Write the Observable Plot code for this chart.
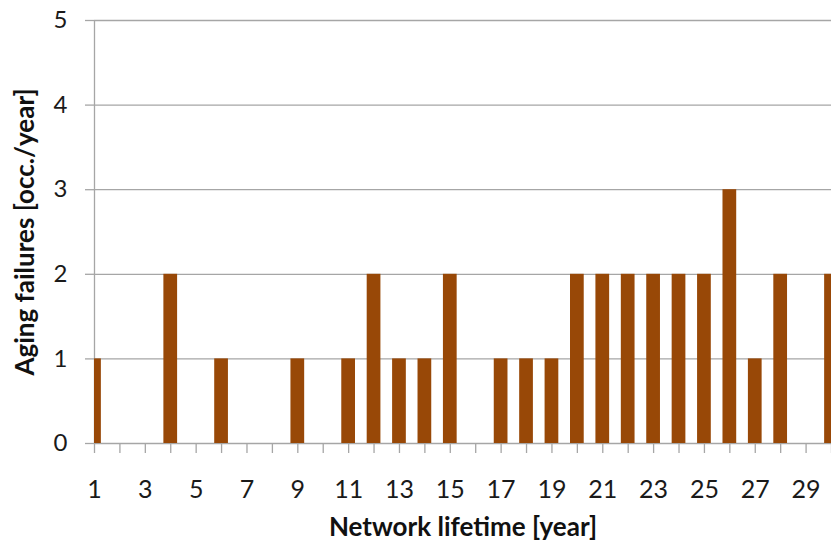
<!DOCTYPE html>
<html>
<head>
<meta charset="utf-8">
<script src="https://cdn.jsdelivr.net/npm/d3@7"></script>
<script src="https://cdn.jsdelivr.net/npm/@observablehq/plot@0.6"></script>
<style>
  html, body { margin: 0; padding: 0; background: #fff; }
  svg { display: block; }
</style>
</head>
<body>
<div id="chart"></div>
<script>
const years = [1,2,3,4,5,6,7,8,9,10,11,12,13,14,15,16,17,18,19,20,21,22,23,24,25,26,27,28,29,30];
const failures = [1,0,0,2,0,1,0,0,1,0,1,2,1,1,2,0,1,1,1,2,2,2,2,2,2,3,1,2,0,2];
const xTickLabels = [1,3,5,7,9,11,13,15,17,19,21,23,25,27,29];
const yTicks = [0,1,2,3,4,5];
const xTitle = "Network lifetime [year]";
const yTitle = "Aging failures [occ./year]";

const data = years.map((y, i) => ({year: y, value: failures[i]})).filter(d => d.value > 0);
const halfBar = 0.27;
const grid = "#a6a6a6";
const font = "Lato, 'Open Sans', sans-serif";

const chart = Plot.plot({
  width: 831,
  height: 549,
  marginLeft: 94,
  marginRight: 0,
  marginTop: 20,
  marginBottom: 106,
  style: {fontFamily: font, background: "#fff"},
  x: {domain: [1, 30], axis: null},
  y: {domain: [0, 5], axis: null},
  marks: [
    Plot.ruleY(yTicks, {stroke: grid, strokeWidth: 1.3}),
    Plot.axisY({ticks: yTicks, tickFormat: d3.format("d"), tickSize: 9, tickPadding: 18, stroke: grid, strokeWidth: 1.3, fill: "#1a1a1a", fontSize: 24, label: null, strokeOpacity: 1}),
    Plot.ruleX([1], {stroke: grid, strokeWidth: 1.3}),
    Plot.axisX({ticks: years, tickSize: 10, stroke: grid, strokeWidth: 1.3, text: null, label: null, strokeOpacity: 1}),
    Plot.axisX({ticks: xTickLabels, tickFormat: d3.format("d"), tickSize: 0, tickPadding: 37, fill: "#1a1a1a", fontSize: 25, label: null}),
    Plot.rectY(data, {
      x1: d => Math.max(1, d.year - halfBar),
      x2: d => d.year + halfBar,
      y1: 0,
      y2: "value",
      fill: "#984807",
      clip: true
    }),
    Plot.text([xTitle], {frameAnchor: "bottom", dy: 84, text: d => d, fontWeight: "bold", fontSize: 26, fill: "#111", lineAnchor: "middle", textAnchor: "middle"}),
    Plot.text([yTitle], {frameAnchor: "left", dx: -69, rotate: -90, text: d => d, fontWeight: "bold", fontSize: 26, fill: "#111", lineAnchor: "middle", textAnchor: "middle"})
  ]
});
document.getElementById("chart").appendChild(chart);
</script>
</body>
</html>
